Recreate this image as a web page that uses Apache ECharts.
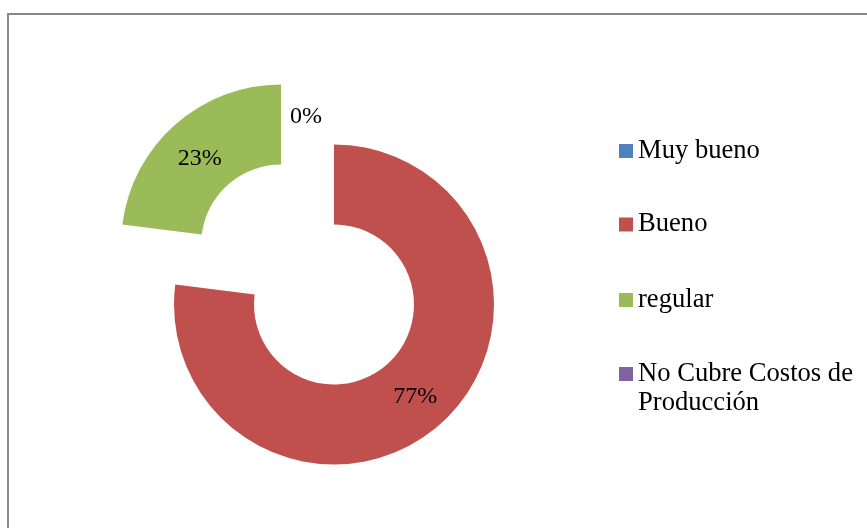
<!DOCTYPE html>
<html>
<head>
<meta charset="utf-8">
<script src="https://cdn.jsdelivr.net/npm/echarts@6/dist/echarts.min.js"></script>
<style>
  html, body { margin: 0; padding: 0; background: #ffffff; }
  #chart { width: 867px; height: 528px; }
</style>
</head>
<body>
<div id="chart"></div>
<script>
// Rating categories and their share of answers (percent)
const categories = ['Muy bueno', 'Bueno', 'regular', 'No Cubre Costos de Producción'];
const shares = [0, 77, 23, 0];
const legendLines = [['Muy bueno'], ['Bueno'], ['regular'], ['No Cubre Costos de', 'Producción']];
const colors = ['#4F81BD', '#C0504D', '#9BBB59', '#8064A2'];

const serif = "'Liberation Serif', 'Times New Roman', serif";
const LEGEND_FONT = 26.6;
const LEGEND_LINE = 29;

// one legend block per category so each row sits on its own line
const legendRowCenters = [152, 225.5, 301, 375];
const legends = categories.map((name, i) => {
  const lines = legendLines[i];
  const multi = lines.length > 1;
  // a blank leading line keeps the marker level with the first text line
  const text = multi
    ? '{pad| }\n' + lines.map(l => '{t|' + l + '}').join('\n')
    : '{t|' + lines[0] + '}';
  const blockHeight = multi ? LEGEND_LINE * (lines.length + 1) : LEGEND_LINE;
  return {
    orient: 'vertical',
    left: 619,
    top: legendRowCenters[i] - blockHeight / 2,
    padding: 0,
    itemWidth: 14,
    itemHeight: 14,
    itemGap: 5,
    icon: 'rect',
    selectedMode: false,
    formatter: () => text,
    textStyle: {
      fontFamily: serif,
      fontSize: LEGEND_FONT,
      color: '#000000',
      rich: {
        t: { fontFamily: serif, fontSize: LEGEND_FONT, color: '#000000', lineHeight: LEGEND_LINE },
        pad: { fontFamily: serif, fontSize: LEGEND_FONT, lineHeight: LEGEND_LINE }
      }
    },
    data: [name]
  };
});

const chart = echarts.init(document.getElementById('chart'), null, { renderer: 'canvas' });

chart.setOption({
  animation: false,
  backgroundColor: '#ffffff',
  graphic: [{
    type: 'rect',
    silent: true,
    shape: { x: 8, y: 14, width: 900, height: 600 },
    style: { fill: 'none', stroke: '#888888', lineWidth: 2 }
  }],
  legend: legends,
  series: [{
    type: 'pie',
    center: [334, 304.5],
    radius: [80, 160],
    startAngle: 90,
    clockwise: true,
    selectedMode: 'multiple',
    selectedOffset: 80,
    avoidLabelOverlap: false,
    minAngle: 0,
    emphasis: { disabled: true },
    select: { itemStyle: { borderWidth: 0 } },
    label: {
      show: true,
      position: 'inside',
      formatter: p => p.value + '%',
      fontFamily: serif,
      fontSize: 24,
      color: '#000000'
    },
    labelLine: { show: false },
    labelLayout: p => {
      if (p.dataIndex === 0) {
        return { x: 306, y: 117, align: 'center', verticalAlign: 'middle' };
      }
      if (p.dataIndex === 2) {
        return { dy: 6 };
      }
      return {};
    },
    data: categories.map((name, i) => ({
      name: name,
      value: shares[i],
      selected: i === 2,
      itemStyle: { color: colors[i] },
      label: i === 3 ? { show: false } : undefined
    }))
  }]
});
</script>
</body>
</html>
